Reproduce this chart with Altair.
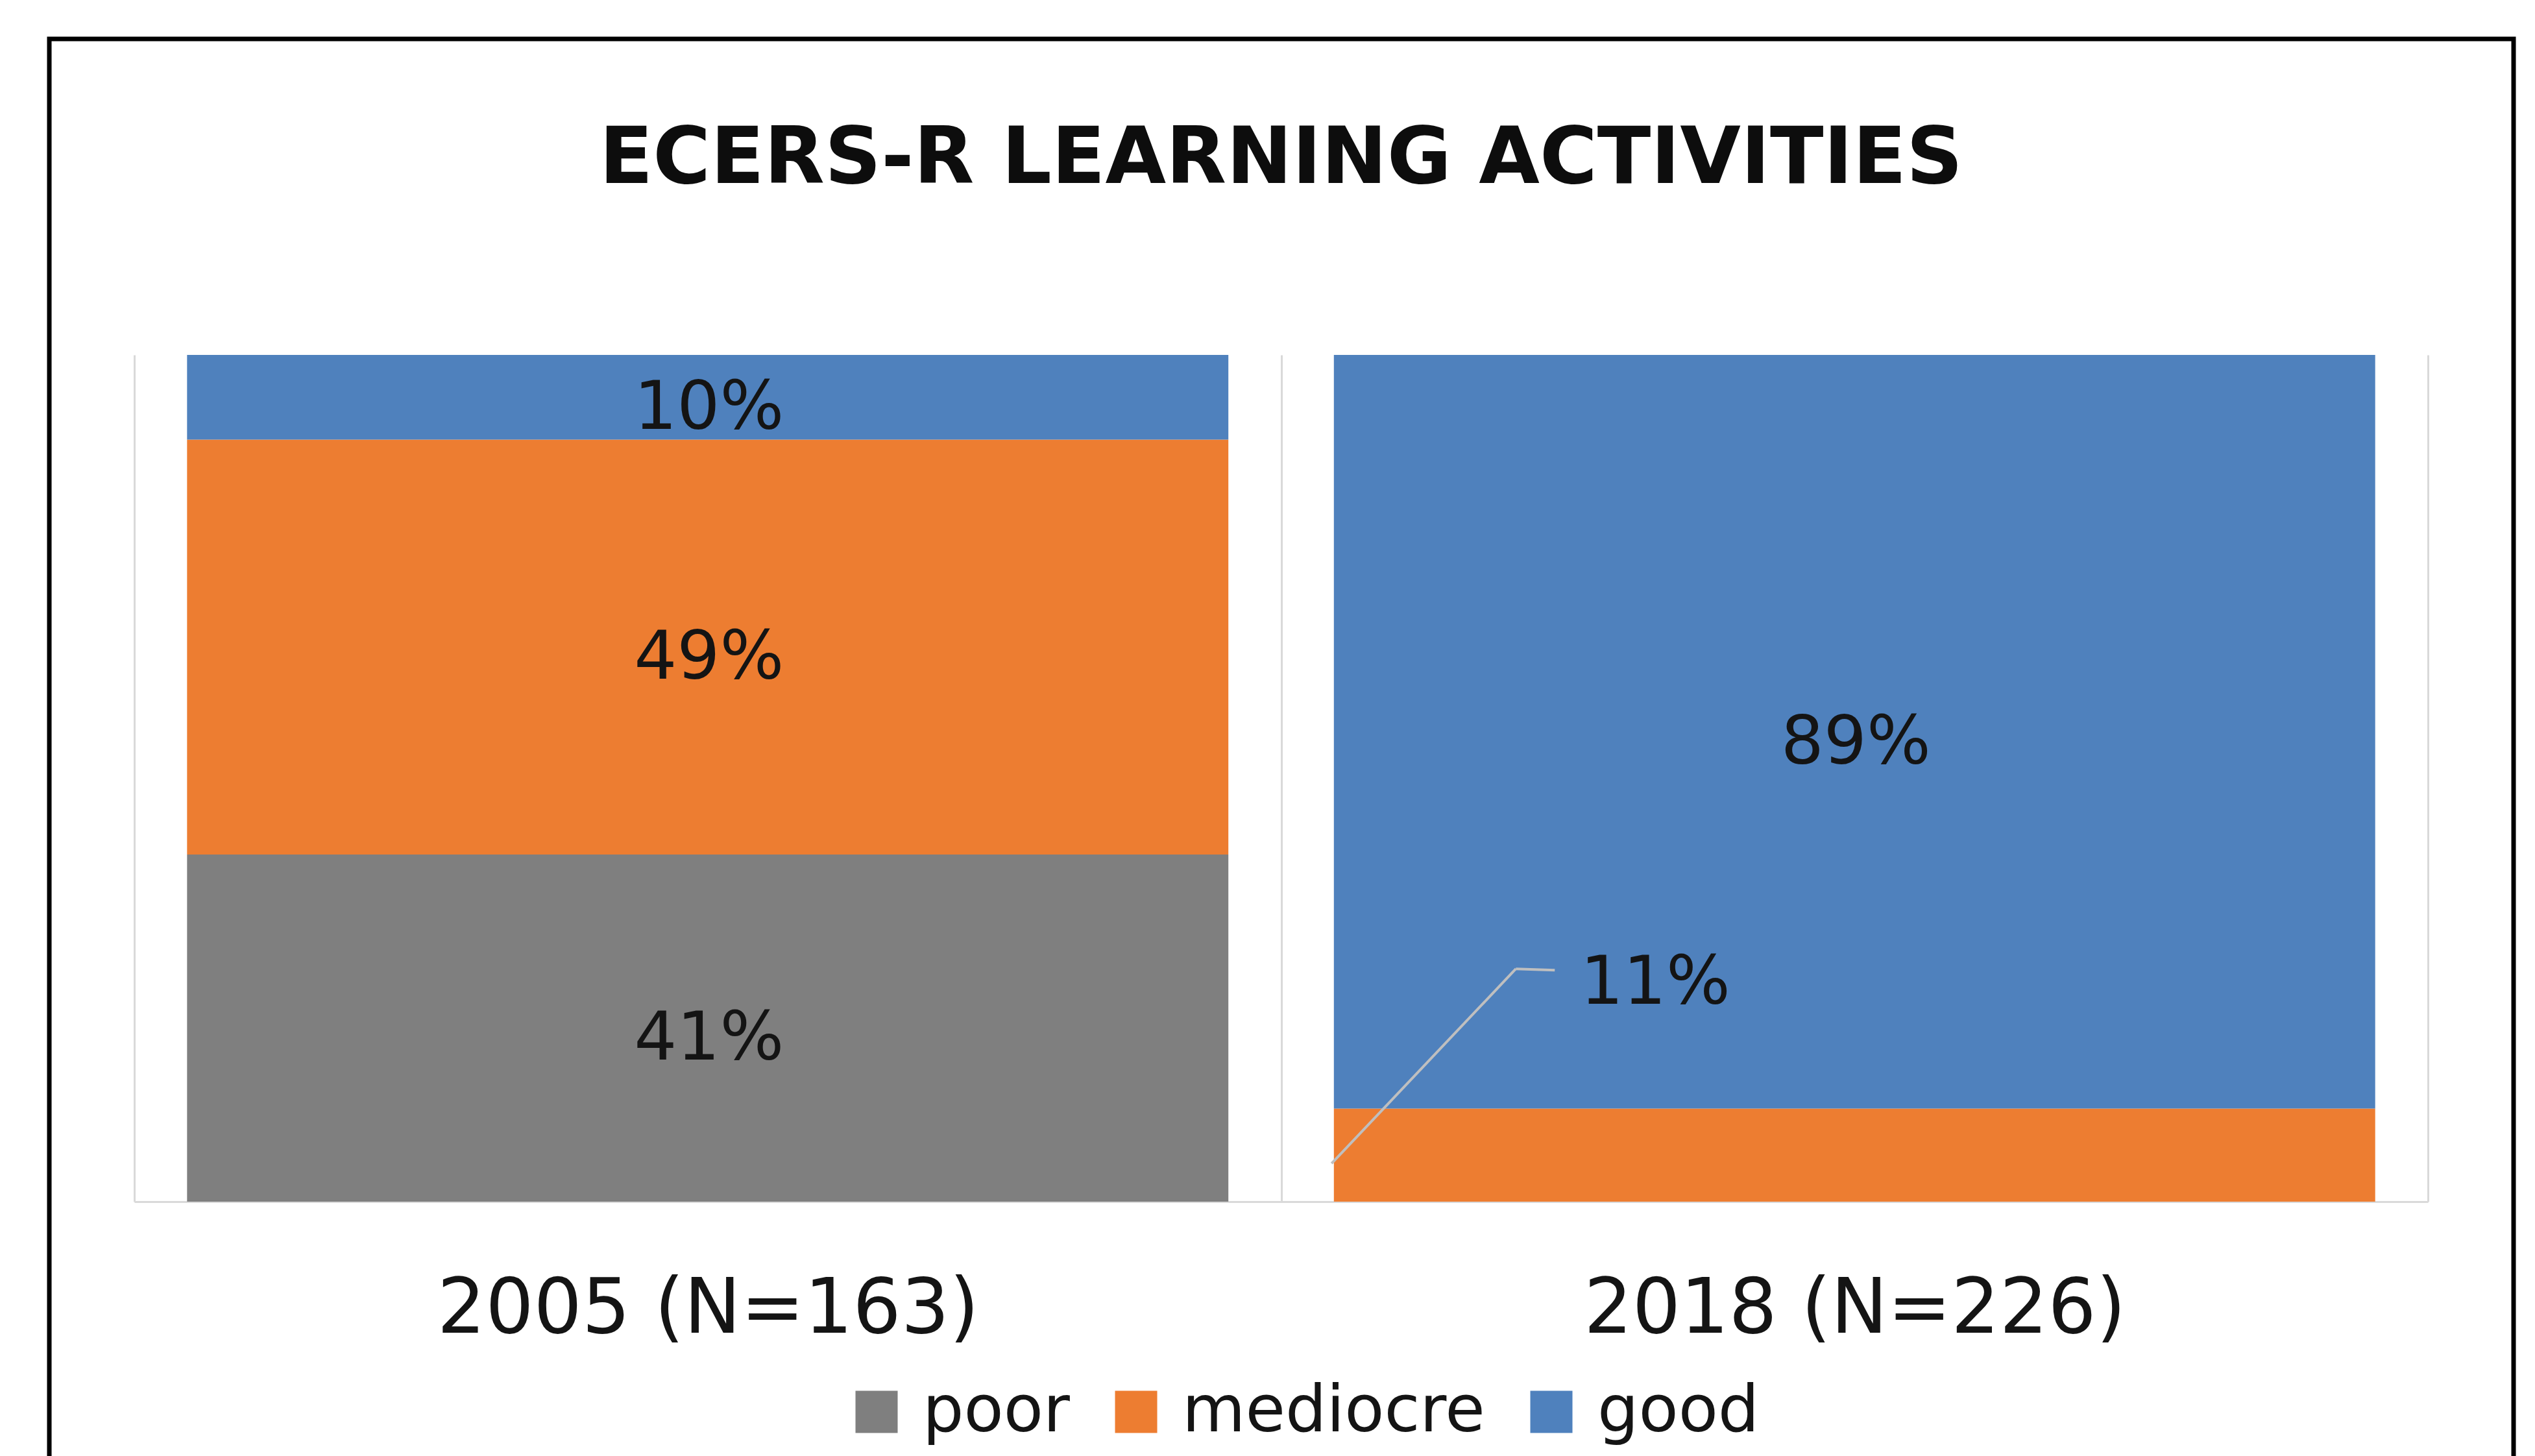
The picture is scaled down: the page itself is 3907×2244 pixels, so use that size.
import altair as alt
import pandas as pd

# ---- data ----
years = ["2005 (N=163)", "2018 (N=226)"]
ratings = ["poor", "mediocre", "good"]
poor = [41, 0]
mediocre = [49, 11]
good = [10, 89]
colors = ["#7F7F7F", "#ED7D31", "#4F81BD"]
title_text = "ECERS-R LEARNING ACTIVITIES"

rows = []
for i, yr in enumerate(years):
    base = 0
    for r, vals in zip(ratings, [poor, mediocre, good]):
        v = vals[i]
        rows.append(dict(Year=yr, Rating=r, value=v, start=base, end=base + v,
                         mid=base + v / 2, label=f"{v}%"))
        base += v
df = pd.DataFrame(rows)
# the small 2018 "mediocre" segment gets a call-out label with a leader line
df["callout"] = (df["Year"] == years[1]) & (df["Rating"] == "mediocre")

FONT = "DejaVu Sans"
TXT = "#141414"

x_enc = alt.X(
    "Year:N", sort=years, title=None,
    scale=alt.Scale(paddingInner=0, paddingOuter=0),
    axis=alt.Axis(labelFont=FONT, labelFontSize=117, labelColor=TXT, labelPadding=109,
                  labelAngle=0, labelLimit=3000, ticks=False, tickSize=0, domain=True,
                  domainColor="#D9D9D9", domainWidth=3, grid=True, gridColor="#D9D9D9",
                  gridWidth=3, tickBand="extent"),
)
y_scale = alt.Scale(domain=[0, 100], nice=False)

base = alt.Chart(df)

bars = base.mark_bar(width=alt.RelativeBandSize(0.908)).encode(
    x=x_enc,
    y=alt.Y("start:Q", scale=y_scale, axis=None, title=None),
    y2="end:Q",
    color=alt.Color(
        "Rating:N", sort=ratings,
        scale=alt.Scale(domain=ratings, range=colors),
        legend=alt.Legend(title=None, orient="none", legendX=1094, legendY=1579,
                          direction="horizontal", symbolType="square", symbolSize=4225,
                          symbolStrokeWidth=0, labelFont=FONT, labelFontSize=100,
                          labelColor=TXT, labelOffset=21, columnPadding=52, padding=0,
                          labelLimit=1000),
    ),
)

labels = base.transform_filter(
    (alt.datum.value > 0) & (alt.datum.callout == False)
).mark_text(font=FONT, fontSize=104, color=TXT, dx=2, dy=18, baseline="middle",
            align="center").encode(
    x=x_enc,
    y=alt.Y("mid:Q", scale=y_scale, axis=None, title=None),
    text="label:N",
)

callout = base.transform_filter(alt.datum.callout == True).mark_text(
    font=FONT, fontSize=104, color=TXT, dx=-307, dy=-264, baseline="middle", align="center"
).encode(
    x=x_enc,
    y=alt.Y("mid:Q", scale=y_scale, axis=None, title=None),
    text="label:N",
)

leader1 = base.transform_filter(alt.datum.callout == True).mark_rule(
    color="#BFBFBF", strokeWidth=4, xOffset=-806, x2Offset=-522, yOffset=13, y2Offset=-287
).encode(
    x=x_enc, x2=alt.X2("Year"),
    y=alt.Y("mid:Q", scale=y_scale, axis=None, title=None), y2=alt.Y2("mid"),
)
leader2 = base.transform_filter(alt.datum.callout == True).mark_rule(
    color="#BFBFBF", strokeWidth=4, xOffset=-522, x2Offset=-462, yOffset=-287, y2Offset=-285
).encode(
    x=x_enc, x2=alt.X2("Year"),
    y=alt.Y("mid:Q", scale=y_scale, axis=None, title=None), y2=alt.Y2("mid"),
)

frame = alt.Chart(pd.DataFrame({"frame": [1]})).mark_rect(
    fill="white", fillOpacity=0, stroke="black", strokeWidth=7
).encode(x=alt.value(-131), x2=alt.value(3667), y=alt.value(-487), y2=alt.value(1900))

chart = alt.layer(bars, labels, callout, leader1, leader2, frame).properties(
    width=3535, height=1305,
    title=alt.TitleParams(text=title_text, font=FONT, fontSize=121, fontWeight="bold",
                          color="#0d0d0d", anchor="middle", offset=-250),
    autosize=alt.AutoSizeParams(type="none"),
    padding={"left": 207, "top": 547, "right": 165, "bottom": 392},
    background="white",
).configure_view(strokeWidth=0)

chart.save("out.html", embed_options={"renderer": "svg", "actions": False})
